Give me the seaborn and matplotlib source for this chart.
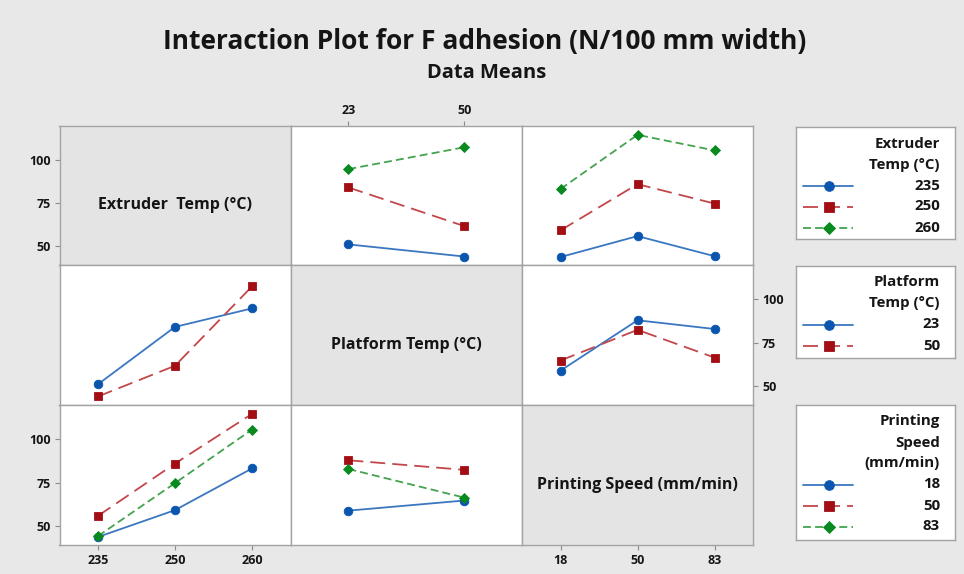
import matplotlib
matplotlib.use("Agg")
import matplotlib.pyplot as plt
import numpy as np
import pandas as pd
import seaborn as sns

# ---------------- data ----------------
extruder_levels = ["235", "250", "260"]
platform_levels = ["23", "50"]
speed_levels = ["18", "50", "83"]

# mean F adhesion; rows = extruder level, cols = platform level
ext_by_platform = [[51.1, 44.1],
                   [84.0, 61.7],
                   [94.6, 107.2]]
# rows = extruder level, cols = printing speed level
ext_by_speed = [[43.8, 55.9, 44.3],
                [59.2, 85.9, 74.7],
                [83.1, 114.4, 105.4]]
# rows = platform level, cols = printing speed level
platform_by_speed = [[58.9, 87.8, 82.8],
                     [64.7, 82.3, 66.4]]

factor_labels = ["Extruder  Temp (°C)", "Platform Temp (°C)", "Printing Speed (mm/min)"]
legend_titles = ["Extruder\nTemp (°C)", "Platform\nTemp (°C)", "Printing\nSpeed\n(mm/min)"]
y_ticks = [50, 75, 100]
title = "Interaction Plot for F adhesion (N/100 mm width)"
subtitle = "Data Means"

# ---------------- style ----------------
sns.set_style("white")
plt.rcParams["font.family"] = ["Open Sans", "DejaVu Sans"]
plt.rcParams["font.weight"] = "bold"

W, H = 964, 574
FIG_BG = "#E8E8E8"
DIAG_BG = "#E4E4E4"
EDGE = "#A3A3A3"
TXT = "#151515"
line_colors = ["#3A77C0", "#C2474B", "#43A34F"]
marker_colors = ["#0A56AE", "#A30E14", "#088A1E"]
markers = ["o", "s", "D"]
marker_sizes = [6.2, 6.0, 5.6]
dash_styles = ["", (8.3, 3.9), (4.4, 2.3)]
LW = 1.3
YLIM = (39.2, 119.5)

levels = [extruder_levels, platform_levels, speed_levels]


def table(i, j):
    """Means with rows = levels of factor i, cols = levels of factor j."""
    if (i, j) == (0, 1):
        return np.array(ext_by_platform)
    if (i, j) == (0, 2):
        return np.array(ext_by_speed)
    if (i, j) == (1, 2):
        return np.array(platform_by_speed)
    return table(j, i).T


fig = plt.figure(figsize=(W / 100, H / 100), dpi=100, facecolor=FIG_BG)

xe = [59.5, 290.5, 522.0, 753.0]
ye = [126.0, 265.0, 405.0, 545.0]


def px_axes(x0, y0, x1, y1):
    return fig.add_axes([x0 / W, 1 - y1 / H, (x1 - x0) / W, (y1 - y0) / H])


axes = {}
for r in range(3):
    for c in range(3):
        ax = px_axes(xe[c], ye[r], xe[c + 1], ye[r + 1])
        axes[(r, c)] = ax
        ax.set_ylim(*YLIM)
        n = len(levels[c])
        ax.set_xlim(-0.5, n - 0.5)
        for s in ax.spines.values():
            s.set_color(EDGE)
            s.set_linewidth(1.0)
        if r == c:
            ax.set_facecolor(DIAG_BG)
            ax.text(0.5, 0.43, factor_labels[r], transform=ax.transAxes,
                    ha="center", va="center", fontsize=11.5,
                    fontweight="bold", color=TXT)
        else:
            ax.set_facecolor("white")
            tab = table(r, c)
            tr_levels = levels[r]
            x_levels = levels[c]
            rows = []
            for k, tl in enumerate(tr_levels):
                for m, xl in enumerate(x_levels):
                    rows.append({"x": xl, "y": tab[k, m], "trace": tl})
            df = pd.DataFrame(rows)
            nt = len(tr_levels)
            sns.lineplot(data=df, x="x", y="y", hue="trace", style="trace",
                         hue_order=tr_levels, style_order=tr_levels,
                         palette=line_colors[:nt], markers=markers[:nt],
                         dashes=dash_styles[:nt], linewidth=LW, sort=False,
                         legend=False, ax=ax)
            ax.set_xlim(-0.5, n - 0.5)
            ax.set_ylim(*YLIM)
            for ln in ax.get_lines():
                col = matplotlib.colors.to_hex(ln.get_color()).upper()
                for k in range(nt):
                    if col == matplotlib.colors.to_hex(line_colors[k]).upper():
                        ln.set_markerfacecolor(marker_colors[k])
                        ln.set_markeredgecolor(marker_colors[k])
                        ln.set_markeredgewidth(0.6)
                        ln.set_markersize(marker_sizes[k])
        ax.set_xlabel("")
        ax.set_ylabel("")
        ax.set_xticks(range(n))
        ax.set_xticklabels(levels[c])
        ax.set_yticks(y_ticks)
        ax.set_yticklabels([str(v) for v in y_ticks])
        ax.tick_params(axis="both", which="both", length=3.5, width=0.8,
                       color="#8C8C8C", labelsize=9, labelcolor=TXT, pad=3,
                       bottom=False, top=False, left=False, right=False,
                       labelbottom=False, labeltop=False,
                       labelleft=False, labelright=False)

# axis labelling as in Minitab's alternating layout
axes[(0, 0)].tick_params(axis="y", left=True, labelleft=True)
axes[(0, 1)].tick_params(axis="x", top=True, labeltop=True)
axes[(1, 2)].tick_params(axis="y", right=True, labelright=True)
axes[(2, 0)].tick_params(axis="y", left=True, labelleft=True)
axes[(2, 0)].tick_params(axis="x", bottom=True, labelbottom=True)
axes[(2, 2)].tick_params(axis="x", bottom=True, labelbottom=True)
for ax in axes.values():
    for lab in ax.get_xticklabels() + ax.get_yticklabels():
        lab.set_fontweight("bold")

# ---------------- legends ----------------
boxes = [(796, 127, 955, 239), (796, 266, 955, 358), (796, 405, 955, 540)]
for b, (x0, y0, x1, y1) in enumerate(boxes):
    lax = px_axes(x0, y0, x1, y1)
    w, h = x1 - x0, y1 - y0
    lax.set_xlim(0, w)
    lax.set_ylim(h, 0)
    lax.set_facecolor("white")
    lax.set_xticks([])
    lax.set_yticks([])
    for s in lax.spines.values():
        s.set_color(EDGE)
        s.set_linewidth(1.0)
    tlines = legend_titles[b].split("\n")
    y = 16.5
    for tl in tlines:
        lax.text(144, y, tl, ha="right", va="center", fontsize=10.8,
                 fontweight="bold", color=TXT)
        y += 21
    for k, lv in enumerate(levels[b]):
        ls = "-" if dash_styles[k] == "" else (0, dash_styles[k])
        lax.plot([7, 57], [y, y], color=line_colors[k], lw=LW, linestyle=ls)
        lax.plot([33], [y], marker=markers[k], color=marker_colors[k],
                 markersize=marker_sizes[k] + 0.8, markeredgewidth=0.6,
                 linestyle="none")
        lax.text(144, y, lv, ha="right", va="center", fontsize=10.8,
                 fontweight="bold", color=TXT)
        y += 21

# ---------------- titles ----------------
fig.text(485 / W, 1 - 42 / H, title, ha="center", va="center",
         fontsize=19, fontweight="bold", color=TXT)
fig.text(487 / W, 1 - 73 / H, subtitle, ha="center", va="center",
         fontsize=14.5, fontweight="bold", color=TXT)

fig.savefig("out.png", dpi=100, facecolor=FIG_BG)
